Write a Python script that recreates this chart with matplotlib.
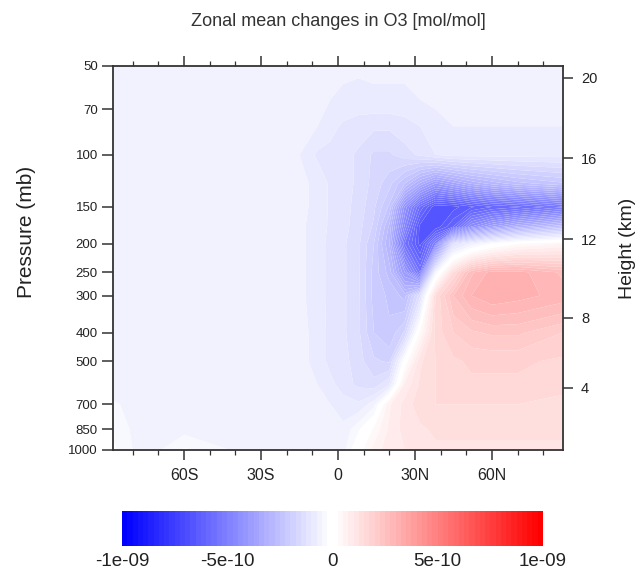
import numpy as np
import matplotlib
matplotlib.use('Agg')
import matplotlib.pyplot as plt
from matplotlib.colors import ListedColormap, BoundaryNorm
from matplotlib.ticker import NullLocator, FixedLocator

plt.rcParams['font.family'] = ['Liberation Sans', 'DejaVu Sans']

# 数据: 纬度、气压层、O3 变化 (单位 1e-10 mol/mol)
lats = [-87.5, -75, -60, -30, -15, -8, -3, 2, 8, 14, 20, 26, 32, 38, 45, 52, 60, 70, 87.5]
plev = [1000, 850, 700, 600, 500, 400, 300, 250, 200, 175, 150, 125, 100, 80, 65, 50]
o3 = [
    [-0.2, -0.7, -0.2, -0.7, -0.7, -0.7, -0.7, -0.6, 0.1, 0.6, 0.9, 1.0, 1.1, 1.2, 1.2, 1.2, 1.2, 1.2, 1.2],
    [-0.3, -0.7, -0.6, -0.7, -0.7, -0.7, -0.7, -0.7, -0.3, 0.3, 0.8, 1.1, 1.2, 1.3, 1.3, 1.3, 1.3, 1.3, 1.3],
    [-0.45, -0.7, -0.7, -0.7, -0.7, -0.7, -0.75, -0.85, -0.95, -0.6, 0.7, 1.1, 1.4, 1.5, 1.5, 1.5, 1.5, 1.5, 1.4],
    [-0.7, -0.7, -0.7, -0.7, -0.7, -0.75, -0.9, -1.15, -1.3, -1.4, -1.0, 0.8, 1.3, 1.5, 1.6, 1.7, 1.7, 1.7, 1.6],
    [-0.7, -0.7, -0.7, -0.7, -0.7, -0.8, -1.1, -1.15, -1.4, -1.7, -1.8, 0.0, 1.2, 1.5, 1.7, 1.8, 1.8, 1.8, 1.7],
    [-0.7, -0.7, -0.7, -0.7, -0.7, -0.8, -1.1, -1.2, -1.45, -2.0, -2.2, -1.7, 0.3, 1.6, 2.0, 2.2, 2.3, 2.3, 2.0],
    [-0.7, -0.7, -0.7, -0.7, -0.7, -0.85, -1.1, -1.2, -1.45, -2.1, -2.3, -2.6, -1.3, 1.5, 2.5, 3.0, 3.2, 3.1, 2.9],
    [-0.7, -0.7, -0.7, -0.7, -0.7, -0.85, -1.1, -1.2, -1.45, -2.1, -2.6, -4.0, -5.5, -0.5, 1.5, 2.7, 3.1, 3.1, 2.7],
    [-0.7, -0.7, -0.7, -0.7, -0.7, -0.85, -1.1, -1.2, -1.45, -2.0, -3.0, -5.5, -6.6, -5.0, -1.3, -0.7, -0.2, 0.2, 0.5],
    [-0.7, -0.7, -0.7, -0.7, -0.7, -0.85, -1.05, -1.15, -1.4, -1.8, -2.8, -4.8, -6.6, -6.7, -6.0, -4.5, -3.8, -3.2, -2.5],
    [-0.7, -0.7, -0.7, -0.7, -0.7, -0.8, -1.05, -1.15, -1.35, -1.7, -2.3, -4.3, -5.8, -6.7, -6.6, -6.3, -6.0, -5.8, -5.3],
    [-0.7, -0.7, -0.7, -0.7, -0.7, -0.8, -1.05, -1.15, -1.3, -1.6, -1.9, -2.5, -3.3, -4.0, -3.6, -3.2, -2.9, -2.6, -2.3],
    [-0.7, -0.7, -0.7, -0.7, -0.75, -1.05, -1.1, -1.15, -1.3, -1.55, -1.55, -1.35, -1.2, -1.0, -0.9, -0.9, -0.9, -0.9, -0.9],
    [-0.7, -0.7, -0.7, -0.7, -0.7, -0.75, -0.9, -1.05, -1.12, -1.2, -1.2, -1.12, -1.0, -0.85, -0.75, -0.75, -0.75, -0.75, -0.75],
    [-0.7, -0.7, -0.7, -0.7, -0.7, -0.7, -0.75, -0.8, -0.85, -0.8, -0.8, -0.8, -0.75, -0.7, -0.7, -0.7, -0.7, -0.7, -0.7],
    [-0.7, -0.7, -0.7, -0.7, -0.7, -0.7, -0.7, -0.7, -0.7, -0.7, -0.7, -0.7, -0.7, -0.7, -0.7, -0.7, -0.7, -0.7, -0.7],
]
scale = 1e-10

p_ticks = [1000, 850, 700, 500, 400, 300, 250, 200, 150, 100, 70, 50]
lat_ticks = [-60, -30, 0, 30, 60]
lat_labels = ['60S', '30S', '0', '30N', '60N']
hgt_ticks = [4, 8, 12, 16, 20]
cb_ticks = [-1e-9, -5e-10, 0, 5e-10, 1e-9]
cb_labels = ['-1e-09', '-5e-10', '0', '5e-10', '1e-09']


# 标准大气: 高度(km) -> 气压(mb)
def std_p(z_km):
    z = z_km * 1000.0
    if z <= 11000:
        return 1013.25 * (1 - 2.25577e-5 * z) ** 5.25588
    return 226.32 * np.exp(-1.57688e-4 * (z - 11000))


# 色标: 蓝-白-红, 80 个色块
nhalf = 40
blues = [(t, t, 1.0) for t in np.linspace(0, 1, nhalf)]
reds = [(1.0, 1 - t, 1 - t) for t in np.linspace(0, 1, nhalf)]
cmap = ListedColormap(blues + reds)
levels = np.linspace(-1e-9, 1e-9, 2 * nhalf + 1)
norm = BoundaryNorm(levels, cmap.N)

fig = plt.figure(figsize=(6.41, 5.72), dpi=100)
ax = fig.add_axes([113 / 641, 1 - 450 / 572, 450 / 641, 384 / 572])

Z = np.array(o3) * scale
cf = ax.contourf(lats, plev, Z, levels=levels, cmap=cmap, norm=norm, antialiased=True)

ax.set_yscale('log')
ax.set_ylim(1000, 50)
ax.set_xlim(-87.7, 87.7)
ax.yaxis.set_major_locator(FixedLocator(p_ticks))
ax.yaxis.set_minor_locator(NullLocator())
ax.set_yticklabels([str(p) for p in p_ticks])
ax.set_xticks(lat_ticks)
ax.set_xticklabels(lat_labels)
ax.xaxis.set_minor_locator(FixedLocator(np.arange(-80, 81, 10)))

tc = '#222222'
for s in ax.spines.values():
    s.set_color('#333333')
    s.set_linewidth(1.3)
ax.tick_params(axis='x', which='major', direction='out', length=7, width=1.1,
               top=True, labeltop=False, labelsize=11.5, colors='#333333', labelcolor=tc, pad=6)
ax.tick_params(axis='x', which='minor', direction='out', length=3.5, width=0.9,
               top=True, colors='#333333')
ax.tick_params(axis='y', which='major', direction='out', length=8, width=1.1,
               labelsize=9.5, colors='#333333', labelcolor=tc, pad=3)

# 右侧高度轴
ax2 = ax.twinx()
ax2.set_yscale('log')
ax2.set_ylim(1000, 50)
ax2.yaxis.set_major_locator(FixedLocator([std_p(h) for h in hgt_ticks]))
ax2.yaxis.set_minor_locator(NullLocator())
ax2.set_yticklabels([str(h) for h in hgt_ticks])
ax2.tick_params(axis='y', direction='out', length=7, width=1.1, labelsize=10.5,
                colors='#333333', labelcolor=tc, pad=6)
for s in ax2.spines.values():
    s.set_visible(False)

fig.text(338 / 641, 1 - 22 / 572, 'Zonal mean changes in O3 [mol/mol]',
         ha='center', va='center', fontsize=13, color='#333333')
fig.text(27 / 641, 1 - 232 / 572, 'Pressure (mb)', rotation=90,
         ha='center', va='center', fontsize=15, color=tc)
fig.text(627 / 641, 1 - 248 / 572, 'Height (km)', rotation=90,
         ha='center', va='center', fontsize=14, color=tc)

# 色标
cax = fig.add_axes([122 / 641, 1 - 546 / 572, 421 / 641, 35 / 572])
cb = fig.colorbar(cf, cax=cax, orientation='horizontal', ticks=cb_ticks)
cb.outline.set_visible(False)
cb.ax.xaxis.set_minor_locator(NullLocator())
cb.ax.set_xticklabels(cb_labels)
cb.ax.tick_params(length=0, labelsize=13.5, labelcolor=tc, pad=5)

fig.savefig('out.png', dpi=100)
